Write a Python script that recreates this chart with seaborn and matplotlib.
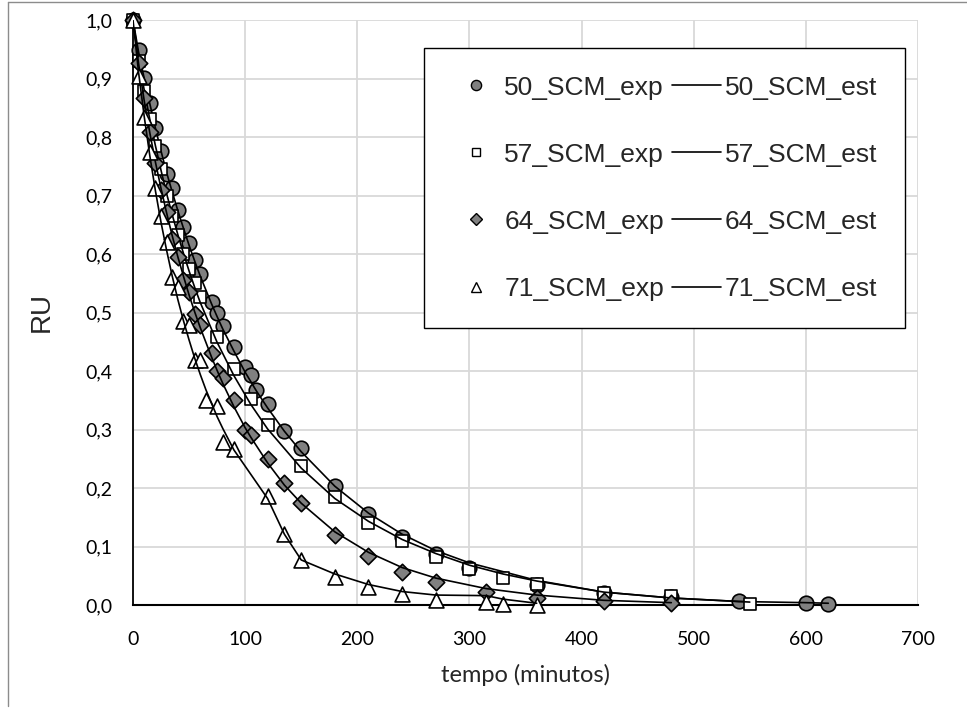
import numpy as np
import pandas as pd
import matplotlib
matplotlib.use("Agg")
import matplotlib.pyplot as plt
from matplotlib.lines import Line2D
import seaborn as sns

# ---------------- data ----------------
t50 = [0, 5, 10, 15, 20, 25, 30, 35, 40, 45, 50, 55, 60, 70, 75, 80, 90, 100, 105, 110, 120,
       135, 150, 180, 210, 240, 270, 300, 360, 420, 480, 540, 600, 620]
exp50 = [1.0, 0.948, 0.901, 0.858, 0.815, 0.776, 0.737, 0.712, 0.675, 0.646, 0.618, 0.590, 0.566,
         0.518, 0.500, 0.477, 0.441, 0.407, 0.393, 0.368, 0.344, 0.297, 0.268, 0.203, 0.155,
         0.117, 0.088, 0.064, 0.035, 0.021, 0.013, 0.006, 0.004, 0.002]
est50 = [1.0, 0.945, 0.900, 0.857, 0.815, 0.776, 0.739, 0.706, 0.674, 0.644, 0.615, 0.588, 0.562,
         0.515, 0.493, 0.472, 0.434, 0.398, 0.382, 0.366, 0.337, 0.297, 0.262, 0.203, 0.157,
         0.121, 0.093, 0.072, 0.042, 0.022, 0.012, 0.006, 0.004, 0.003]

t57 = [0, 5, 10, 15, 20, 25, 30, 35, 40, 45, 50, 55, 60, 75, 90, 105, 120, 150, 180, 210, 240,
       270, 300, 330, 360, 420, 480, 550]
exp57 = [1.0, 0.930, 0.878, 0.830, 0.785, 0.745, 0.700, 0.665, 0.632, 0.600, 0.575, 0.550, 0.526,
         0.458, 0.403, 0.352, 0.307, 0.238, 0.184, 0.140, 0.109, 0.082, 0.062, 0.047, 0.036,
         0.020, 0.016, 0.001]
est57 = [1.0, 0.935, 0.880, 0.830, 0.785, 0.743, 0.703, 0.667, 0.633, 0.601, 0.571, 0.543, 0.517,
         0.449, 0.392, 0.343, 0.301, 0.234, 0.182, 0.143, 0.112, 0.088, 0.068, 0.053, 0.041,
         0.022, 0.012, 0.005]

t64 = [0, 5, 10, 15, 20, 25, 30, 35, 40, 45, 50, 55, 60, 70, 75, 80, 90, 100, 105, 120, 135,
       150, 180, 210, 240, 270, 315, 360, 420, 480]
exp64 = [1.0, 0.927, 0.866, 0.809, 0.755, 0.710, 0.671, 0.625, 0.595, 0.556, 0.535, 0.497, 0.479,
         0.431, 0.400, 0.388, 0.351, 0.299, 0.291, 0.250, 0.209, 0.175, 0.119, 0.083, 0.057,
         0.039, 0.022, 0.012, 0.006, 0.003]
est64 = [1.0, 0.925, 0.862, 0.807, 0.757, 0.712, 0.670, 0.631, 0.595, 0.562, 0.530, 0.501, 0.474,
         0.424, 0.401, 0.379, 0.339, 0.303, 0.287, 0.243, 0.205, 0.174, 0.125, 0.090, 0.064,
         0.046, 0.028, 0.017, 0.008, 0.004]

t71 = [0, 5, 10, 15, 20, 25, 30, 35, 40, 45, 50, 55, 60, 65, 75, 80, 90, 120, 135, 150, 180,
       210, 240, 270, 315, 330, 360]
exp71 = [1.0, 0.905, 0.835, 0.775, 0.712, 0.665, 0.620, 0.560, 0.543, 0.485, 0.478, 0.419, 0.418,
         0.351, 0.341, 0.279, 0.267, 0.187, 0.121, 0.077, 0.048, 0.031, 0.019, 0.009, 0.005,
         0.001, 0.0]
est71 = [1.0, 0.910, 0.835, 0.768, 0.708, 0.654, 0.606, 0.562, 0.522, 0.486, 0.453, 0.422, 0.394,
         0.368, 0.322, 0.302, 0.265, 0.182, 0.121, 0.077, 0.053, 0.035, 0.023, 0.017, 0.016,
         0.010, 0.003]

exp_labels = ["50_SCM_exp", "57_SCM_exp", "64_SCM_exp", "71_SCM_exp"]
est_labels = ["50_SCM_est", "57_SCM_est", "64_SCM_est", "71_SCM_est"]
x_ticks = [0, 100, 200, 300, 400, 500, 600, 700]
y_ticks = [0.0, 0.1, 0.2, 0.3, 0.4, 0.5, 0.6, 0.7, 0.8, 0.9, 1.0]

# ---------------- style ----------------
sns.set_theme(style="white")
plt.rcParams['font.family'] = ['Liberation Sans', 'DejaVu Sans']

W, H = 967, 714
fig = plt.figure(figsize=(W / 100, H / 100), dpi=100)
ax = fig.add_axes([133 / W, 1 - 605 / H, 785 / W, 585 / H])

series = [
    (t50, exp50, est50, 'o', '#808080', 110),
    (t57, exp57, est57, 's', 'white', 85),
    (t64, exp64, est64, 'D', '#808080', 70),
    (t71, exp71, est71, '^', 'white', 115),
]

for i, (t, e, s_, mk, fc, sz) in enumerate(series):
    df_exp = pd.DataFrame({"t": t, "RU": e})
    df_est = pd.DataFrame({"t": t, "RU": s_})
    sns.scatterplot(data=df_exp, x="t", y="RU", marker=mk, s=sz, color=fc,
                    edgecolor='black', linewidth=1.2, ax=ax, zorder=3 + 2 * i,
                    clip_on=False, legend=False)
    sns.lineplot(data=df_est, x="t", y="RU", sort=False, estimator=None, color='black',
                 linewidth=1.2, ax=ax, zorder=4 + 2 * i, legend=False)

ax.set_xlim(0, 700)
ax.set_ylim(0, 1.0)
ax.set_xticks(x_ticks)
ax.set_yticks(y_ticks)
ax.set_xticklabels([str(v) for v in x_ticks], fontfamily='Lato', fontsize=14)
ax.set_yticklabels([f"{v:.1f}".replace('.', ',') for v in y_ticks], fontfamily='Lato', fontsize=14)
ax.tick_params(axis='y', length=0, pad=15, colors='#000000')
ax.tick_params(axis='x', length=0, pad=19, colors='#000000')

ax.grid(True, color='#d9d9d9', linewidth=1.3)
ax.set_axisbelow(True)
for sp in ['top', 'right']:
    ax.spines[sp].set_visible(False)
ax.spines['left'].set_color('#000000')
ax.spines['left'].set_linewidth(1.3)
ax.spines['bottom'].set_color('#000000')
ax.spines['bottom'].set_linewidth(1.5)
ax.spines['bottom'].set_zorder(2.5)

ax.set_xlabel("tempo (minutos)", fontfamily='Lato', fontsize=17)
ax.set_ylabel("RU", fontsize=20)
ax.xaxis.set_label_coords(0.5, -0.100)
ax.yaxis.set_label_coords(-0.100, 0.5)

# legend: exp markers in first column, est lines in second
handles = []
for (t, e, s_, mk, fc, sz) in series:
    handles.append(Line2D([], [], linestyle='none', marker=mk, markerfacecolor=fc,
                          markeredgecolor='black', markeredgewidth=1.0,
                          markersize=np.sqrt(sz) * 0.7))
for _ in series:
    handles.append(Line2D([], [], color='black', linewidth=1.2))
leg = fig.legend(handles, exp_labels + est_labels, ncol=2, loc='upper right',
                 bbox_to_anchor=(905 / W, 1 - 48 / H), borderaxespad=0, fontsize=19,
                 frameon=True, fancybox=False, edgecolor='black', framealpha=1,
                 handlelength=1.85, handletextpad=0.15, columnspacing=0.3,
                 labelspacing=1.63, borderpad=1.05)
leg.get_frame().set_linewidth(1.0)

# outer chart border (left and top visible)
fig.add_artist(Line2D([8 / W, 8 / W], [1 - 706 / H, 1 - 2 / H], color='#8c8c8c',
                      linewidth=1.0, transform=fig.transFigure))
fig.add_artist(Line2D([8 / W, 1.0], [1 - 2 / H, 1 - 2 / H], color='#8c8c8c',
                      linewidth=1.0, transform=fig.transFigure))

fig.savefig("out.png", dpi=100, facecolor='white')
